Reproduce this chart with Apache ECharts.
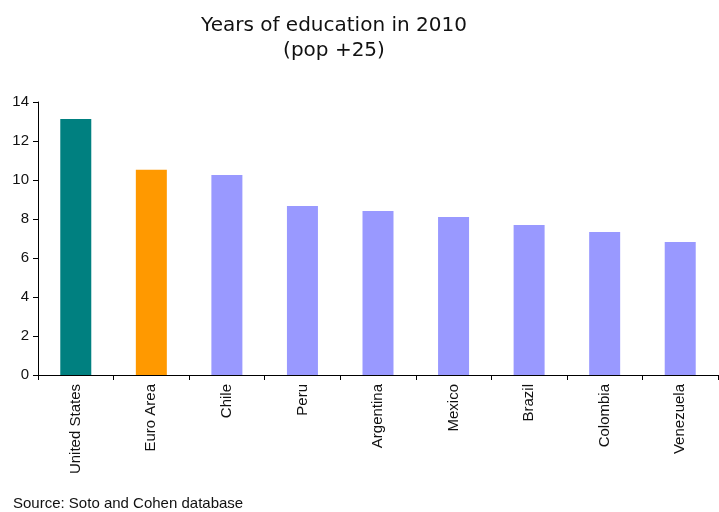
<!DOCTYPE html>
<html>
<head>
<meta charset="utf-8">
<script src="https://cdn.jsdelivr.net/npm/echarts@6/dist/echarts.min.js"></script>
<style>
  html, body { margin: 0; padding: 0; background: #fff; }
  #chart { width: 719px; height: 512px; }
</style>
</head>
<body>
<div id="chart"></div>
<script>
const countries = ['United States', 'Euro Area', 'Chile', 'Peru', 'Argentina', 'Mexico', 'Brazil', 'Colombia', 'Venezuela'];
const years = [13.13, 10.52, 10.26, 8.67, 8.41, 8.10, 7.69, 7.33, 6.82];
const barColors = ['#008080', '#FF9900', '#9999FF', '#9999FF', '#9999FF', '#9999FF', '#9999FF', '#9999FF', '#9999FF'];

const chart = echarts.init(document.getElementById('chart'));

const data = [];
for (let i = 0; i < countries.length; i++) {
  data.push({ value: years[i], itemStyle: { color: barColors[i] } });
}

chart.setOption({
  animation: false,
  title: {
    text: 'Years of education in 2010\n(pop +25)',
    left: 329,
    top: 8,
    textAlign: 'center',
    textStyle: {
      fontFamily: 'DejaVu Sans, sans-serif',
      fontWeight: 'normal',
      fontSize: 20,
      lineHeight: 25,
      color: '#111'
    }
  },
  graphic: [{
    type: 'text',
    left: 13,
    top: 496,
    style: {
      text: 'Source: Soto and Cohen database',
      font: '15px "Liberation Sans", Arial, sans-serif',
      fill: '#111'
    }
  }],
  grid: { left: 38, right: 1, top: 102, bottom: 137, containLabel: false },
  xAxis: {
    type: 'category',
    data: countries,
    axisLine: { lineStyle: { color: '#000', width: 1 } },
    axisTick: { show: true, alignWithLabel: false, length: 5, lineStyle: { color: '#000' } },
    axisLabel: {
      rotate: 90,
      interval: 0,
      margin: 9,
      fontFamily: 'Liberation Sans, Arial, sans-serif',
      fontSize: 15,
      color: '#111'
    }
  },
  yAxis: {
    type: 'value',
    min: 0,
    max: 14,
    interval: 2,
    splitLine: { show: false },
    axisLine: { show: true, lineStyle: { color: '#000', width: 1 } },
    axisTick: { show: true, length: 5, lineStyle: { color: '#000' } },
    axisLabel: {
      margin: 9,
      fontFamily: 'Liberation Sans, Arial, sans-serif',
      fontSize: 15,
      color: '#111'
    }
  },
  series: [{
    type: 'bar',
    data: data,
    barWidth: 31
  }]
});
</script>
</body>
</html>
